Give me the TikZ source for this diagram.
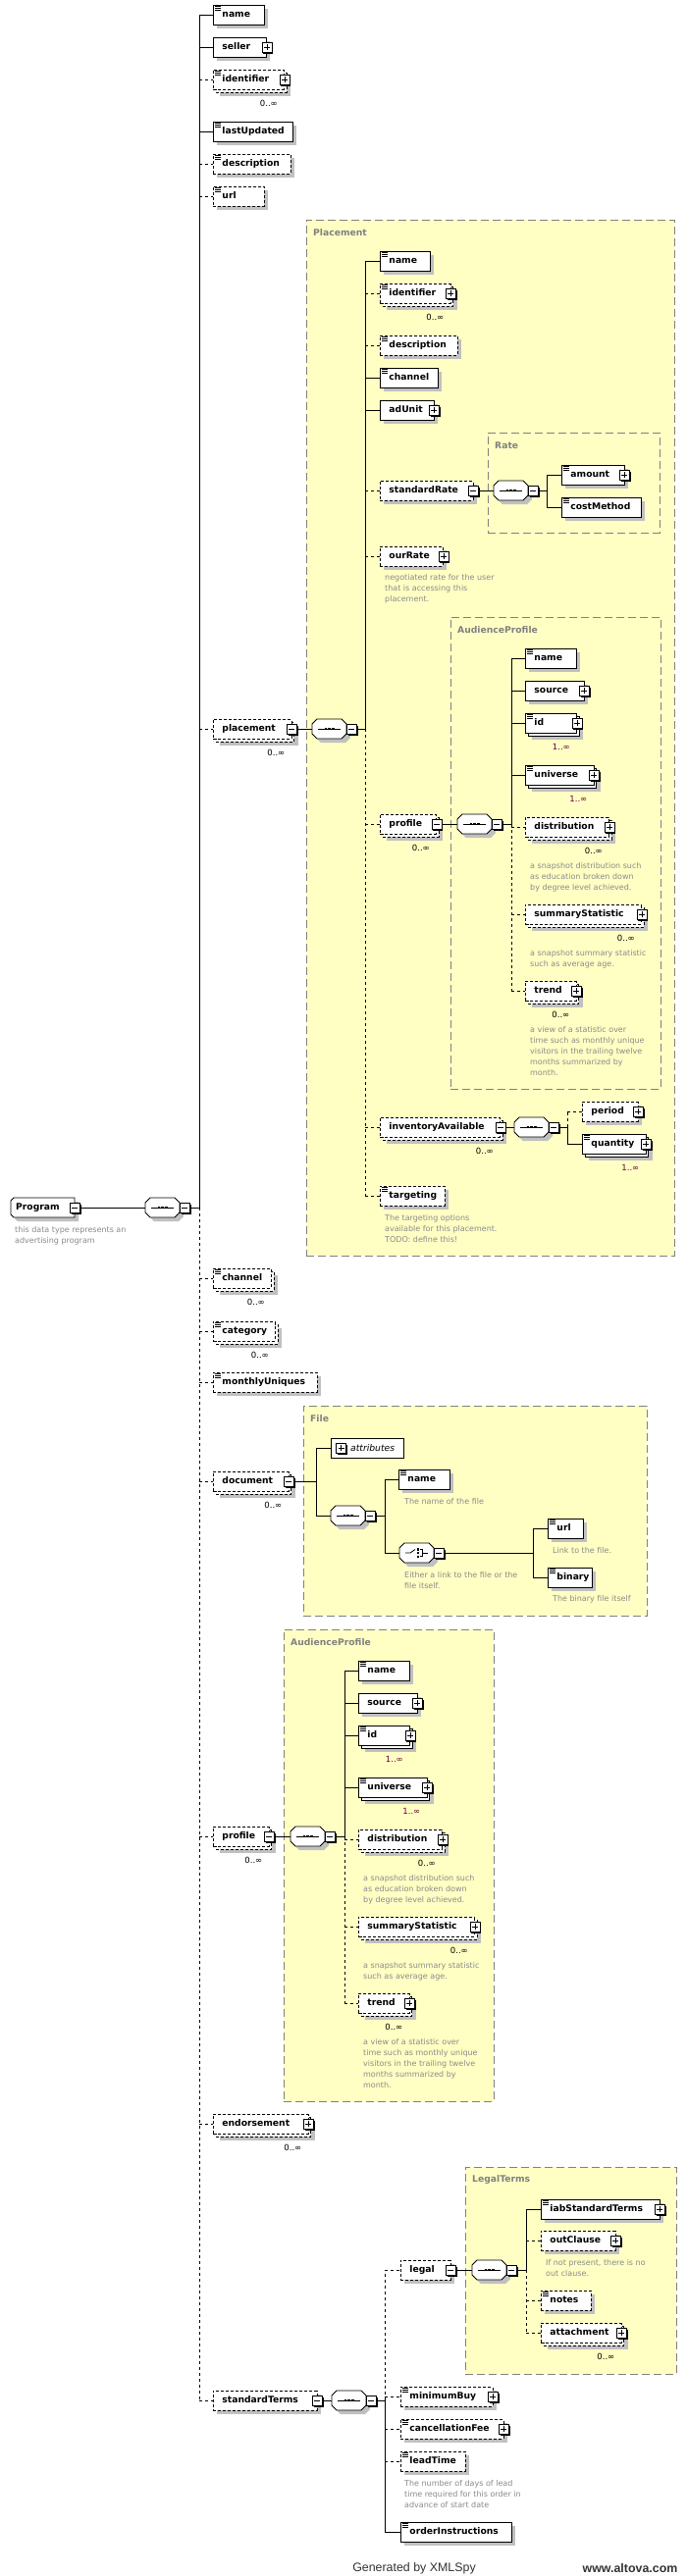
\documentclass[tikz,border=0pt]{standalone}
\usepackage{fontspec}
\setmainfont{DejaVu Sans}
\newfontfamily\footfont{Liberation Sans}
\usetikzlibrary{fit}
\pgfdeclarelayer{grp}
\pgfdeclarelayer{shd}
\pgfsetlayers{grp,shd,main}
\definecolor{shadowc}{HTML}{C0C0C0}
\definecolor{grpfill}{HTML}{FFFFC4}
\definecolor{grpline}{HTML}{808080}
\definecolor{anncol}{HTML}{8A8A8A}
\definecolor{occred}{HTML}{660033}
\definecolor{footc}{HTML}{333333}
\newcommand\elfont{\fontsize{9.2}{11}\selectfont\bfseries}
\newcommand\annfont{\fontsize{8}{11}\selectfont}
\newcommand\occfont{\fontsize{8.5}{10}\selectfont}
\newcommand\attrfont{\fontsize{9.2}{11}\selectfont\itshape}
\tikzset{
  elbox/.style={rectangle,anchor=west,fill=white,inner xsep=9pt,inner ysep=0pt,minimum height=20pt,align=left,text height=7pt,text depth=2pt,font=\elfont},
  req/.style={draw=black,line width=0.9pt,solid},
  opt/.style={draw=black,line width=0.9pt,dash pattern=on 3pt off 2pt},
  rc/.style={draw=black,line width=0.9pt},
  oc/.style={draw=black,line width=0.9pt,dash pattern=on 3pt off 3pt},
  pmbox/.style={rectangle,draw=black,fill=white,line width=0.8pt,minimum size=10pt,inner sep=0pt},
  grpbox/.style={draw=grpline,fill=grpfill,line width=0.9pt,dash pattern=on 8pt off 4pt,inner sep=0pt},
  grplabel/.style={anchor=west,text=grpline,font=\elfont,inner sep=0pt},
  ann/.style={anchor=north west,text=anncol,font=\annfont,align=left,inner sep=0pt},
  occ/.style={anchor=east,font=\occfont,inner sep=0pt},
}
% plus / minus box: #1 name, #2 coordinate, #3 1=plus 0=minus
\newcommand\XBox[3]{%
  \fill[black] ([shift={(-3.5pt,-6.5pt)}]#2) rectangle ([shift={(6.5pt,3.5pt)}]#2);%
  \node[pmbox] (#1) at (#2) {};%
  \draw[line width=0.8pt] ([xshift=-3pt]#1.center) -- ([xshift=3pt]#1.center);%
  \ifnum#3=1 \draw[line width=0.8pt] ([yshift=-3pt]#1.center) -- ([yshift=3pt]#1.center);\fi
}
\newcommand\XPlus[1]{\XBox{#1-pm}{#1.east}{1}}
\newcommand\XMinus[1]{\XBox{#1-pm}{#1.east}{0}}
\newcommand\XDoc[1]{%
  \foreach \xdy in {2,3.8,5.6}{\draw[line width=0.7pt] ([shift={(2pt,-\xdy pt)}]#1.north west) -- ++(6pt,0pt);}%
}
% single element: #1 style, #2 name, #3 x, #4 cy, #5 width, #6 text
\newcommand\XEl[6]{%
  \begin{pgfonlayer}{shd}\fill[shadowc] (#3+4,#4-6) rectangle (#3+#5+4,#4+14);\end{pgfonlayer}%
  \pgfmathsetmacro\xtw{#5-18}%
  \node[elbox,#1,minimum width=#5pt,text width=\xtw pt] (#2) at (#3,#4) {\mbox{#6}};%
}
% multiple element: #7 lower bound 0/1
\newcommand\XEm[7]{%
  \begin{pgfonlayer}{shd}%
    \fill[shadowc] (#3+7,#4-3) rectangle (#3+#5+7,#4+17);%
    \draw[#1,fill=white] (#3+3,#4-7) rectangle (#3+#5+3,#4+13);%
  \end{pgfonlayer}%
  \pgfmathsetmacro\xtw{#5-18}%
  \node[elbox,#1,minimum width=#5pt,text width=\xtw pt] (#2) at (#3,#4) {\mbox{#6}};%
  \ifnum#7=0 \node[occ] (#2-occ) at (#3+#5-6,#4+24) {0..∞};\else \node[occ,text=occred] (#2-occ) at (#3+#5-6,#4+24) {1..∞};\fi
}
\newcommand\XOctagon[2]{%
  \begin{pgfonlayer}{shd}\fill[shadowc] (#1+4,#2-1) -- (#1+9,#2-6) -- (#1+34,#2-6) -- (#1+39,#2-1) -- (#1+39,#2+9) -- (#1+34,#2+14) -- (#1+9,#2+14) -- (#1+4,#2+9) -- cycle;\end{pgfonlayer}%
  \draw[req,fill=white] (#1,#2-5) -- (#1+5,#2-10) -- (#1+30,#2-10) -- (#1+35,#2-5) -- (#1+35,#2+5) -- (#1+30,#2+10) -- (#1+5,#2+10) -- (#1,#2+5) -- cycle;%
}
\newcommand\XSeq[3]{%
  \XOctagon{#2}{#3}%
  \node[inner sep=0pt,minimum width=35pt,minimum height=20pt,anchor=west] (#1) at (#2,#3) {};%
  \draw[line width=0.8pt] (#2+6,#3) -- (#2+29,#3);%
  \fill (#2+12.5,#3-1.3) rectangle (#2+15,#3+1.3);%
  \fill (#2+16.3,#3-1.3) rectangle (#2+18.8,#3+1.3);%
  \fill (#2+20.1,#3-1.3) rectangle (#2+22.6,#3+1.3);%
  \coordinate (#1-c) at (#2+40,#3);%
  \XBox{#1-pm}{#1-c}{0}%
}
\newcommand\XChoice[3]{%
  \XOctagon{#2}{#3}%
  \node[inner sep=0pt,minimum width=35pt,minimum height=20pt,anchor=west] (#1) at (#2,#3) {};%
  \draw[line width=0.8pt] (#2+6,#3) -- (#2+11,#3) -- (#2+16,#3-3.5);%
  \fill (#2+17.5,#3-5) rectangle (#2+20,#3-2.5);%
  \fill (#2+17.5,#3-1.25) rectangle (#2+20,#3+1.25);%
  \fill (#2+17.5,#3+2.5) rectangle (#2+20,#3+5);%
  \draw[line width=0.8pt] (#2+21,#3-3.75) -- (#2+23,#3-3.75) -- (#2+23,#3+3.75) -- (#2+21,#3+3.75);%
  \draw[line width=0.8pt] (#2+23,#3) -- (#2+29,#3);%
  \coordinate (#1-c) at (#2+40,#3);%
  \XBox{#1-pm}{#1-c}{0}%
}
\newcommand\XAnn[4]{\node[ann] (#1) at (#2,#3-4) {#4};}
\newcommand\XGrp[6]{%
  \begin{pgfonlayer}{grp}\node[grpbox,fit={(#2,#3) (#4,#5)}] (#1) {};\end{pgfonlayer}%
  \node[grplabel] (#1-lbl) at (#2+7,#3+13) {#6};%
}
% AudienceProfile block: #1 prefix, #2 group left x, #3 sequence cy
\newcommand\XAudience[3]{%
  \XGrp{#1grp}{#2}{#3-211}{#2+214}{#3+270}{AudienceProfile}%
  \XSeq{#1seq}{#2+7}{#3}%
  \coordinate (#1bus) at (#2+62,#3);%
  \XEl{req}{#1name}{#2+76}{#3-169}{52}{name}\XDoc{#1name}%
  \XEl{req}{#1source}{#2+76}{#3-136}{59.5}{source}\XPlus{#1source}%
  \XEm{req}{#1id}{#2+76}{#3-103}{52}{id}{1}\XDoc{#1id}\XPlus{#1id}%
  \XEm{req}{#1univ}{#2+76}{#3-50}{69.5}{universe}{1}\XDoc{#1univ}\XPlus{#1univ}%
  \XEm{opt}{#1dist}{#2+76}{#3+3}{85}{distribution}{0}\XPlus{#1dist}%
  \XAnn{#1dista}{#2+81}{#3+43}{a snapshot distribution such\\as education broken down\\by degree level achieved.}%
  \XEm{opt}{#1stat}{#2+76}{#3+92}{118}{summaryStatistic}{0}\XPlus{#1stat}%
  \XAnn{#1stata}{#2+81}{#3+132}{a snapshot summary statistic\\such as average age.}%
  \XEm{opt}{#1trend}{#2+76}{#3+170}{51.5}{trend}{0}\XPlus{#1trend}%
  \XAnn{#1trenda}{#2+81}{#3+210}{a view of a statistic over\\time such as monthly unique\\visitors in the trailing twelve\\months summarized by\\month.}%
  \draw[rc] (#1seq-pm.east) -- (#1bus);%
  \draw[rc] (#1bus) -- (#1bus |- #1name.west);%
  \draw[oc] (#1bus) -- (#1bus |- #1trend.west);%
  \foreach \xc in {name,source,id,univ}{\draw[rc] (#1bus |- #1\xc.west) -- (#1\xc.west);}%
  \foreach \xc in {dist,stat,trend}{\draw[oc] (#1bus |- #1\xc.west) -- (#1\xc.west);}%
}
\begin{document}
\begin{tikzpicture}[x=1pt,y=-1pt]
\begin{pgfonlayer}{grp}\fill[white] (0,0) rectangle (700,2626);\end{pgfonlayer}
\useasboundingbox (0,0) rectangle (700,2626);

% ---------- groups ----------
\XGrp{gPlac}{312}{224}{687}{1280}{Placement}
\XGrp{gRate}{497}{441}{672}{543}{Rate}
\XGrp{gFile}{309}{1433}{659}{1647}{File}
\XGrp{gLegal}{474}{2209}{689}{2420}{LegalTerms}

% ---------- root ----------
\begin{pgfonlayer}{shd}\fill[shadowc] (18,1225) -- (80,1225) -- (80,1245) -- (18,1245) -- (15,1242) -- (15,1228) -- cycle;\end{pgfonlayer}
\draw[req,fill=white] (14,1221) -- (76,1221) -- (76,1241) -- (14,1241) -- (11,1238) -- (11,1224) -- cycle;
\node[elbox,minimum width=65pt,text width=55pt,inner xsep=5pt,fill=none] (prog) at (11,1231) {Program};
\XMinus{prog}
\XAnn{prog-ann}{15}{1254}{this data type represents an\\advertising program}
\XSeq{mseq}{148}{1231}
\coordinate (mbus) at (203,1231);

% ---------- main children ----------
\XEl{req}{m-name}{217}{15}{52}{name}\XDoc{m-name}
\XEl{req}{m-seller}{217}{48}{54}{seller}\XPlus{m-seller}
\XEm{opt}{m-ident}{217}{81}{72}{identifier}{0}\XDoc{m-ident}\XPlus{m-ident}
\XEl{req}{m-upd}{217}{134}{81}{lastUpdated}\XDoc{m-upd}
\XEl{opt}{m-desc}{217}{167}{79}{description}\XDoc{m-desc}
\XEl{opt}{m-url}{217}{200}{52}{url}\XDoc{m-url}
\XEm{opt}{m-plac}{217}{743}{79.5}{placement}{0}\XMinus{m-plac}
\XEm{opt}{m-chan}{217}{1303}{59}{channel}{0}\XDoc{m-chan}
\XEm{opt}{m-cat}{217}{1357}{63}{category}{0}\XDoc{m-cat}
\XEl{opt}{m-uniq}{217}{1409}{106}{monthlyUniques}\XDoc{m-uniq}
\XEm{opt}{m-doc}{217}{1510}{76.5}{document}{0}\XMinus{m-doc}
\XEm{opt}{m-prof}{217}{1872}{56.5}{profile}{0}\XMinus{m-prof}
\XEm{opt}{m-endo}{217}{2165}{96.5}{endorsement}{0}\XPlus{m-endo}
\XEl{opt}{m-std}{217}{2447}{105.5}{standardTerms}\XMinus{m-std}

\draw[rc] (prog-pm.east) -- (mseq.west);
\draw[rc] (mseq-pm.east) -- (mbus);
\draw[rc] (mbus) -- (mbus |- m-name.west);
\draw[oc] (mbus) -- (mbus |- m-std.west);
\foreach \xc in {name,seller,upd}{\draw[rc] (mbus |- m-\xc.west) -- (m-\xc.west);}
\foreach \xc in {ident,desc,url,plac,chan,cat,uniq,doc,prof,endo,std}{\draw[oc] (mbus |- m-\xc.west) -- (m-\xc.west);}

% ---------- Placement ----------
\XSeq{pseq}{318}{743}
\coordinate (pbus) at (372,743);
\XEl{req}{p-name}{387}{266}{51}{name}\XDoc{p-name}
\XEm{opt}{p-ident}{387}{299}{71.5}{identifier}{0}\XDoc{p-ident}\XPlus{p-ident}
\XEl{opt}{p-desc}{387}{352}{79}{description}\XDoc{p-desc}
\XEl{req}{p-chan}{387}{385}{59}{channel}\XDoc{p-chan}
\XEl{req}{p-adunit}{387}{418}{54.5}{adUnit}\XPlus{p-adunit}
\XEl{opt}{p-srate}{387}{500}{94.5}{standardRate}\XMinus{p-srate}
\XEl{opt}{p-ourrate}{387}{567}{64}{ourRate}\XPlus{p-ourrate}
\XAnn{p-ourrate-ann}{392}{589}{negotiated rate for the user\\that is accessing this\\placement.}
\XEm{opt}{p-prof}{387}{840}{57}{profile}{0}\XMinus{p-prof}
\XEm{opt}{p-inv}{387}{1149}{122}{inventoryAvailable}{0}\XMinus{p-inv}
\XEl{opt}{p-targ}{387}{1219}{66}{targeting}\XDoc{p-targ}
\XAnn{p-targ-ann}{392}{1242}{The targeting options\\available for this placement.\\TODO: define this!}

\draw[rc] (m-plac-pm.east) -- (pseq.west);
\draw[rc] (pseq-pm.east) -- (pbus);
\draw[rc] (pbus) -- (pbus |- p-name.west);
\draw[oc] (pbus) -- (pbus |- p-targ.west);
\foreach \xc in {name,chan,adunit}{\draw[rc] (pbus |- p-\xc.west) -- (p-\xc.west);}
\foreach \xc in {ident,desc,srate,ourrate,prof,inv,targ}{\draw[oc] (pbus |- p-\xc.west) -- (p-\xc.west);}

% ---------- Rate ----------
\XSeq{rseq}{503}{500}
\coordinate (rbus) at (557,500);
\XEl{req}{r-amount}{572}{484}{63.5}{amount}\XDoc{r-amount}\XPlus{r-amount}
\XEl{req}{r-cost}{572}{517}{81}{costMethod}\XDoc{r-cost}
\draw[rc] (p-srate-pm.east) -- (rseq.west);
\draw[rc] (rseq-pm.east) -- (rbus);
\draw[rc] (rbus |- r-amount.west) -- (rbus |- r-cost.west);
\draw[rc] (rbus |- r-amount.west) -- (r-amount.west);
\draw[rc] (rbus |- r-cost.west) -- (r-cost.west);

% ---------- AudienceProfile (in placement) ----------
\XAudience{a-}{459}{840}
\draw[rc] (p-prof-pm.east) -- (a-seq.west);

% ---------- inventoryAvailable ----------
\XSeq{iseq}{524}{1149}
\coordinate (ibus) at (578,1149);
\XEl{opt}{i-period}{593}{1133}{56.5}{period}\XPlus{i-period}
\XEm{req}{i-qty}{593}{1166}{64.5}{quantity}{1}\XDoc{i-qty}\XPlus{i-qty}
\draw[rc] (p-inv-pm.east) -- (iseq.west);
\draw[rc] (iseq-pm.east) -- (ibus);
\draw[oc] (ibus) -- (ibus |- i-period.west);
\draw[rc] (ibus) -- (ibus |- i-qty.west);
\draw[oc] (ibus |- i-period.west) -- (i-period.west);
\draw[rc] (ibus |- i-qty.west) -- (i-qty.west);

% ---------- File ----------
\node[rectangle,draw=black,line width=0.9pt,fill=white,anchor=west,minimum width=74pt,minimum height=20pt,inner sep=0pt] (f-attr) at (337,1476) {};
\node[anchor=west,inner sep=0pt,font=\attrfont] (f-attr-t) at (357,1476) {attributes};
\coordinate (f-attr-c) at (347.5,1476);
\XBox{f-attr-pm}{f-attr-c}{1}
\XSeq{fseq}{337}{1545}
\coordinate (fbus) at (322,1510);
\draw[rc] (m-doc-pm.east) -- (fbus);
\draw[rc] (fbus |- f-attr.west) -- (fbus |- fseq.west);
\draw[rc] (fbus |- f-attr.west) -- (f-attr.west);
\draw[rc] (fbus |- fseq.west) -- (fseq.west);
\coordinate (fsbus) at (392,1545);
\XEl{req}{f-name}{406}{1508}{52}{name}\XDoc{f-name}
\XAnn{f-name-ann}{412}{1531}{The name of the file}
\XChoice{fch}{407}{1583}
\XAnn{fch-ann}{412}{1606}{Either a link to the file or the\\file itself.}
\draw[rc] (fseq-pm.east) -- (fsbus);
\draw[rc] (fsbus |- f-name.west) -- (fsbus |- fch.west);
\draw[rc] (fsbus |- f-name.west) -- (f-name.west);
\draw[rc] (fsbus |- fch.west) -- (fch.west);
\coordinate (cbus) at (543,1583);
\XEl{req}{f-url}{558}{1558}{36}{url}\XDoc{f-url}
\XAnn{f-url-ann}{563}{1581}{Link to the file.}
\XEl{req}{f-bin}{558}{1608}{45}{binary}\XDoc{f-bin}
\XAnn{f-bin-ann}{563}{1630}{The binary file itself}
\draw[rc] (fch-pm.east) -- (cbus);
\draw[rc] (cbus |- f-url.west) -- (cbus |- f-bin.west);
\draw[rc] (cbus |- f-url.west) -- (f-url.west);
\draw[rc] (cbus |- f-bin.west) -- (f-bin.west);

% ---------- AudienceProfile (profile) ----------
\XAudience{b-}{289}{1872}
\draw[rc] (m-prof-pm.east) -- (b-seq.west);

% ---------- standardTerms ----------
\XSeq{sseq}{338}{2447}
\coordinate (sbus) at (392,2447);
\XEl{opt}{s-legal}{408}{2314}{50.5}{legal}\XMinus{s-legal}
\XSeq{lseq}{481}{2314}
\coordinate (lbus) at (536,2314);
\XEl{req}{l-iab}{551}{2252}{120.5}{iabStandardTerms}\XDoc{l-iab}\XPlus{l-iab}
\XEl{opt}{l-out}{551}{2284}{75.5}{outClause}\XPlus{l-out}
\XAnn{l-out-ann}{556}{2307}{If not present, there is no\\out clause.}
\XEl{opt}{l-notes}{551}{2345}{51}{notes}\XDoc{l-notes}
\XEm{opt}{l-att}{551}{2378}{81.5}{attachment}{0}\XPlus{l-att}
\XEl{opt}{s-min}{408}{2443}{93.5}{minimumBuy}\XDoc{s-min}\XPlus{s-min}
\XEl{opt}{s-cancel}{408}{2476}{104.5}{cancellationFee}\XDoc{s-cancel}\XPlus{s-cancel}
\XEl{opt}{s-lead}{408}{2509}{66}{leadTime}\XDoc{s-lead}
\XAnn{s-lead-ann}{412}{2532}{The number of days of lead\\time required for this order in\\advance of start date}
\XEl{req}{s-order}{408}{2581}{113}{orderInstructions}\XDoc{s-order}

\draw[rc] (m-std-pm.east) -- (sseq.west);
\draw[rc] (sseq-pm.east) -- (sbus);
\draw[oc] (sbus) -- (sbus |- s-legal.west);
\draw[rc] (sbus) -- (sbus |- s-order.west);
\foreach \xc in {legal,min,cancel,lead}{\draw[oc] (sbus |- s-\xc.west) -- (s-\xc.west);}
\draw[rc] (sbus |- s-order.west) -- (s-order.west);
\draw[rc] (s-legal-pm.east) -- (lseq.west);
\draw[rc] (lseq-pm.east) -- (lbus);
\draw[rc] (lbus) -- (lbus |- l-iab.west);
\draw[oc] (lbus) -- (lbus |- l-att.west);
\draw[rc] (lbus |- l-iab.west) -- (l-iab.west);
\foreach \xc in {out,notes,att}{\draw[oc] (lbus |- l-\xc.west) -- (l-\xc.west);}

% ---------- footer ----------
\node[font=\footfont\fontsize{12.4}{14}\selectfont,text=footc,inner sep=0pt] (gen) at (422,2618) {Generated by XMLSpy};
\node[font=\footfont\fontsize{12.4}{14}\selectfont\bfseries,text=footc,inner sep=0pt] (alt) at (642,2618) {www.altova.com};
\end{tikzpicture}
\end{document}
